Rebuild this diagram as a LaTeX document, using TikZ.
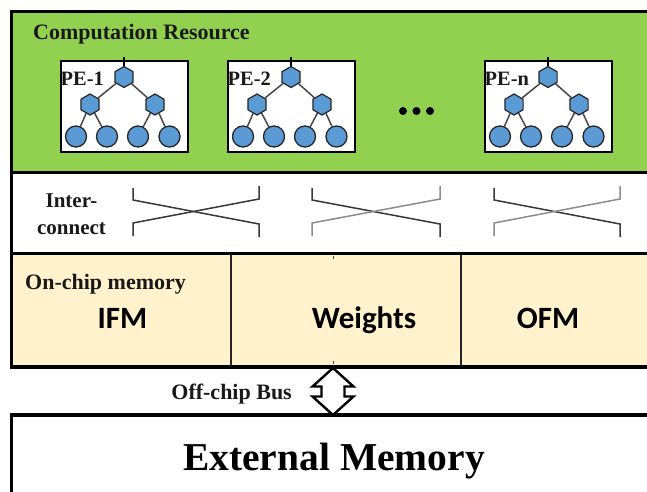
\documentclass[tikz,border=0pt]{standalone}
\usepackage{fontspec}
\setmainfont{Liberation Serif}
\newfontfamily\calfont{Carlito}
\usetikzlibrary{shapes.geometric,calc}

\definecolor{peGreen}{HTML}{92D050}
\definecolor{memBeige}{HTML}{FFF2CC}
\definecolor{unitBlue}{HTML}{5B9BD5}

\tikzset{
  frame/.style={draw=black, line width=3.5pt},
  sepline/.style={draw=black, line width=3pt},
  divline/.style={draw=black!85, line width=1.6pt},
  pebox/.style={draw=black, fill=white, line width=1.6pt, minimum width=127pt,
    minimum height=91pt, anchor=north west, inner sep=0pt},
  hexunit/.style={regular polygon, regular polygon sides=6, shape border rotate=30,
    minimum size=21pt, inner sep=0pt, fill=unitBlue, draw=black!85, line width=1.2pt},
  leafunit/.style={circle, minimum size=21pt, inner sep=0pt, fill=unitBlue,
    draw=black!85, line width=1.3pt},
  treeedge/.style={draw=black!72, line width=1.5pt},
  lbl/.style={font=\bfseries\fontsize{22}{25}\selectfont, inner sep=0pt, text=black!90},
  iclbl/.style={font=\bfseries\fontsize{21}{24}\selectfont, inner sep=0pt, text=black!90, anchor=base},
  pelbl/.style={font=\bfseries\fontsize{20.4}{24}\selectfont, inner sep=0pt, text=black!90, anchor=base west},
  memlbl/.style={font=\calfont\bfseries\fontsize{31}{34}\selectfont, inner sep=0pt, anchor=base},
  bigtitle/.style={font=\bfseries\fontsize{39.5}{44}\selectfont, inner sep=0pt, anchor=base},
  dotnode/.style={circle, fill=black, minimum size=8pt, inner sep=0pt},
  xlineA/.style={draw=black!78, line width=1.5pt},
  xlineB/.style={draw=black!78, line width=1.5pt},
  xlineC/.style={draw=black!45, line width=1.5pt},
}

% one processing element: box, label and a small binary tree
\newcommand\pegroup[3]{%
  \node[pebox] (#1box) at (#2,60) {};
  \node[pelbl] (#1lbl) at ({#2+0.5},85) {#3};
  \node[hexunit] (#1t) at ({#2+64},77) {};
  \node[hexunit] (#1a) at ({#2+30},104.5) {};
  \node[hexunit] (#1b) at ({#2+95},104.5) {};
  \node[leafunit] (#1c) at ({#2+16},136.5) {};
  \node[leafunit] (#1d) at ({#2+47},136.5) {};
  \node[leafunit] (#1e) at ({#2+78},136.5) {};
  \node[leafunit] (#1f) at ({#2+109.5},136.5) {};
  \coordinate (#1stem) at ({#2+64},56.5);
  \draw[treeedge, draw=black] (#1stem) -- (#1t);
  \draw[treeedge] (#1t) -- (#1a);
  \draw[treeedge] (#1t) -- (#1b);
  \draw[treeedge] (#1a) -- (#1c);
  \draw[treeedge] (#1a) -- (#1d);
  \draw[treeedge] (#1b) -- (#1e);
  \draw[treeedge] (#1b) -- (#1f);
}

% one crossbar symbol between x=#1 and x=#2
\newcommand\xbar[3]{%
  \draw[xlineA] (#1,188) -- (#1,200) -- (#2,224) -- (#2,237);
  \draw[#3] (#1,236) -- (#1,223) -- (#2,199) -- (#2,186);
}

\begin{document}
\begin{tikzpicture}[x=1pt, y=-1pt]
\useasboundingbox (0,0) rectangle (647,491);
\clip (0,0) rectangle (647,491);

% chip regions
\fill[peGreen] (11.5,11.5) rectangle (670,172);
\fill[white] (11.5,172) rectangle (670,253.5);
\fill[memBeige] (11.5,253.5) rectangle (670,367);
\draw[divline] (231,254) -- (231,366);
\draw[divline] (461,254) -- (461,366);
\draw[sepline] (11.5,172) -- (670,172);
\draw[sepline] (11.5,253.5) -- (670,253.5);
\draw[frame] (11.5,11.5) rectangle (670,367);

% external memory
\draw[frame, fill=white] (11.5,415) rectangle (670,520);

% computation resource
\node[lbl, anchor=base west] (comp) at (33,39.3) {Computation Resource};
\pegroup{pa}{60}{PE-1}
\pegroup{pb}{227}{PE-2}
\pegroup{pn}{484}{PE-n}
\node[dotnode] (dot1) at (403,111) {};
\node[dotnode] (dot2) at (416.5,111) {};
\node[dotnode] (dot3) at (430,111) {};

% interconnect
\node[iclbl] (icA) at (71.5,207) {Inter-};
\node[iclbl] (icB) at (71.5,234) {connect};
\xbar{133}{259}{xlineB}
\xbar{312}{440}{xlineC}
\xbar{494}{620}{xlineC}

% on-chip memory
\node[lbl, anchor=base west] (ocm) at (25,289) {On-chip memory};
\node[memlbl] (ifm) at (122.5,328.5) {IFM};
\node[memlbl] (wts) at (364,328.5) {Weights};
\node[memlbl] (ofm) at (548,328.5) {OFM};
\draw[black!70, line width=1pt] (333,255.5) -- (333,258.5);
\draw[black!70, line width=1pt] (333,360.5) -- (333,363.5);

% off-chip bus
\coordinate (busN) at (333,368);
\coordinate (busS) at (333,415);
\draw[line width=2.4pt, fill=white, line join=miter]
  (busN) -- ($(busN)+(-20.5,18.5)$) -- ($(busN)+(-11.5,18.5)$)
  -- ($(busS)+(-11.5,-18.5)$) -- ($(busS)+(-20.5,-18.5)$) -- (busS)
  -- ($(busS)+(20.5,-18.5)$) -- ($(busS)+(11.5,-18.5)$)
  -- ($(busN)+(11.5,18.5)$) -- ($(busN)+(20.5,18.5)$) -- cycle;
\node[lbl, anchor=base east] (busl) at (292,399) {Off-chip Bus};

\node[bigtitle] (ext) at (334,470) {External Memory};
\end{tikzpicture}
\end{document}
